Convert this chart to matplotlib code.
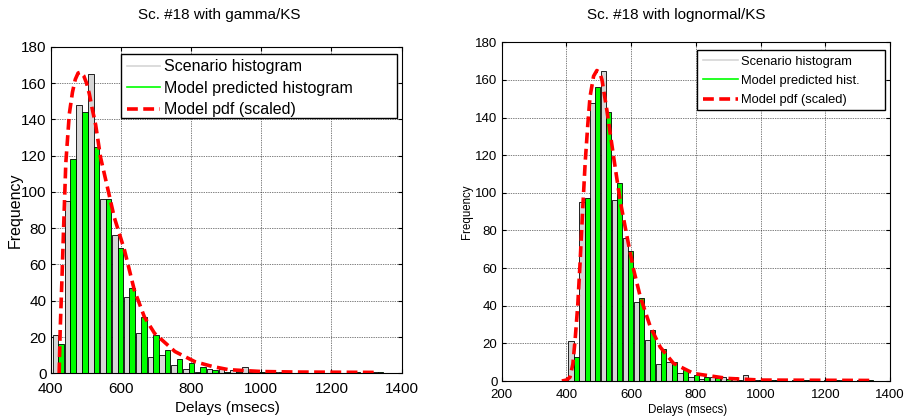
import numpy as np
import matplotlib
matplotlib.use('Agg')
import matplotlib.pyplot as plt
from matplotlib.lines import Line2D
from matplotlib.patches import Rectangle

plt.rcParams['font.family'] = ['Liberation Sans', 'DejaVu Sans']

# bin centres (msecs), shared by both panels
bin_centers = [422, 456, 489, 523, 557, 591, 624, 658, 692, 725, 759, 793, 826, 860,
               894, 928, 961, 995, 1029, 1062, 1096, 1130, 1163, 1197, 1231, 1264, 1298, 1332]
bin_width = 33.7

# scenario histogram (same data in both panels)
scenario = [21, 95, 148, 165, 96, 76, 42, 22, 9, 10, 4.5, 2.2, 0.9, 2.2, 2.2, 2, 3.3, 0.6,
            1, 0.8, 0, 0, 0.3, 0, 0, 0.3, 0, 0.5]

# model predicted histograms
gamma_hist = [16, 118, 144, 125, 96, 69, 47, 31, 21, 13, 7.7, 5.5, 3.3, 1.9, 1, 1, 0.8, 0.7,
              0.6, 0.5, 0.4, 0.4, 0.3, 0.3, 0.3, 0.6, 0.3, 0.6]
lognorm_hist = [13, 97, 156, 143, 105, 69, 44, 27, 17, 10, 5.8, 3.2, 2.3, 1.5, 1, 0.8, 0.7,
                0.5, 0.5, 0.4, 0.4, 0.3, 0.3, 0.3, 0.3, 0.5, 0.3, 0.5]

# model pdfs (scaled)
gamma_pdf_x = [424, 427, 432, 436.5, 443, 453, 462, 470, 478, 485, 494, 502, 510, 518, 528,
               542, 561, 581, 610, 638, 667, 696, 754, 811, 860, 907, 1000, 1100, 1335]
gamma_pdf_y = [0, 24, 52, 79, 116, 143, 155, 162, 165.5, 166, 164, 160, 154, 146, 137,
               119, 103, 86, 68, 46, 31, 22, 12, 6.4, 3.8, 2, 1, 0.7, 0.5]
lognorm_pdf_x = [386, 400, 411, 420, 427, 435, 442, 450, 458, 466, 473, 484, 494, 503, 510,
                 525, 546, 566, 587, 608, 628, 659, 690, 731, 793, 897, 1000, 1340]
lognorm_pdf_y = [0, 0.5, 2, 9, 22, 40, 62, 90, 116, 136, 151, 162, 165, 164, 160,
                 144, 119, 96, 77, 59, 45, 29, 18, 9.4, 4, 1.4, 0.5, 0.3]

grey = '#d6d6d6'
green = '#00ff00'
red = '#ff0000'

W, H = 909, 418
fig = plt.figure(figsize=(W / 100, H / 100), dpi=100)
ax1 = fig.add_axes([0.0558, 0.1069, 0.3861, 0.7813])
ax2 = fig.add_axes([0.5519, 0.0885, 0.4272, 0.8103])

c = np.array(bin_centers)
bw = 0.47 * bin_width


def draw(ax, model_hist, px, py, fs, xlim, labels, box, text_anchor, leg_fs, lspace, hlen):
    ax.bar(c - bw, scenario, width=bw, align='edge', color=grey, edgecolor='black',
           linewidth=0.6, zorder=2)
    ax.bar(c, model_hist, width=bw, align='edge', color=green, edgecolor='black',
           linewidth=0.6, zorder=2)
    ax.plot(px, py, color=red, lw=2.6, dashes=(3, 1.5), zorder=3)
    ax.set_xlim(*xlim)
    ax.set_ylim(0, 180)
    ax.set_xticks(np.arange(xlim[0], xlim[1] + 1, 200))
    ax.set_yticks(np.arange(0, 181, 20))
    ax.grid(True, color='black', linestyle=(0, (1, 1.5)), linewidth=0.5, zorder=0)
    ax.set_axisbelow(True)
    ax.tick_params(direction='in', labelsize=fs, length=3, top=True, right=True)
    ax.tick_params(axis='x', pad=6)
    ax.tick_params(axis='y', pad=3)
    for s in ax.spines.values():
        s.set_linewidth(0.8)
    # legend frame drawn by hand (MATLAB-style box with spare room on the right)
    x0, y0, x1, y1 = box
    frame = Rectangle((x0 / W, 1 - y1 / H), (x1 - x0) / W, (y1 - y0) / H,
                      transform=fig.transFigure, facecolor='white',
                      edgecolor='black', linewidth=1.0, zorder=4, clip_on=False)
    ax.add_artist(frame)
    handles = [Line2D([], [], color=grey, lw=1.2),
               Line2D([], [], color=green, lw=1.2),
               Line2D([], [], color=red, lw=2.6, dashes=(3, 1.5))]
    leg = ax.legend(handles, labels, loc='upper left',
                    bbox_to_anchor=(text_anchor[0] / W, 1 - text_anchor[1] / H),
                    bbox_transform=fig.transFigure, borderaxespad=0, borderpad=0,
                    fontsize=leg_fs, frameon=False, handlelength=hlen,
                    labelspacing=lspace, handletextpad=0.25)
    leg.set_zorder(5)


draw(ax1, gamma_hist, gamma_pdf_x, gamma_pdf_y, 11, (400, 1400),
     ['Scenario histogram', 'Model predicted histogram', 'Model pdf (scaled)'],
     (120.7, 54, 397.3, 118), (127, 59.5), 11.5, 0.4, 2.05)
draw(ax2, lognorm_hist, lognorm_pdf_x, lognorm_pdf_y, 9.5, (200, 1400),
     ['Scenario histogram', 'Model predicted hist.', 'Model pdf (scaled)'],
     (696.7, 50, 885, 110), (702.7, 55.7), 9.3, 0.55, 2.75)

fig.text(219 / W, 1 - 15 / H, 'Sc. #18 with gamma/KS', ha='center', va='center', fontsize=11)
fig.text(676 / W, 1 - 15 / H, 'Sc. #18 with lognormal/KS', ha='center', va='center', fontsize=11)
fig.text(227 / W, 1 - 408 / H, 'Delays (msecs)', ha='center', va='center', fontsize=11)
fig.text(688 / W, 1 - 410 / H, 'Delays (msecs)', ha='center', va='center', fontsize=8.3)
fig.text(15 / W, 1 - 210 / H, 'Frequency', ha='center', va='center', rotation=90, fontsize=11.5)
fig.text(467 / W, 1 - 212 / H, 'Frequency', ha='center', va='center', rotation=90, fontsize=8.3)

fig.savefig('out.png', dpi=100)
